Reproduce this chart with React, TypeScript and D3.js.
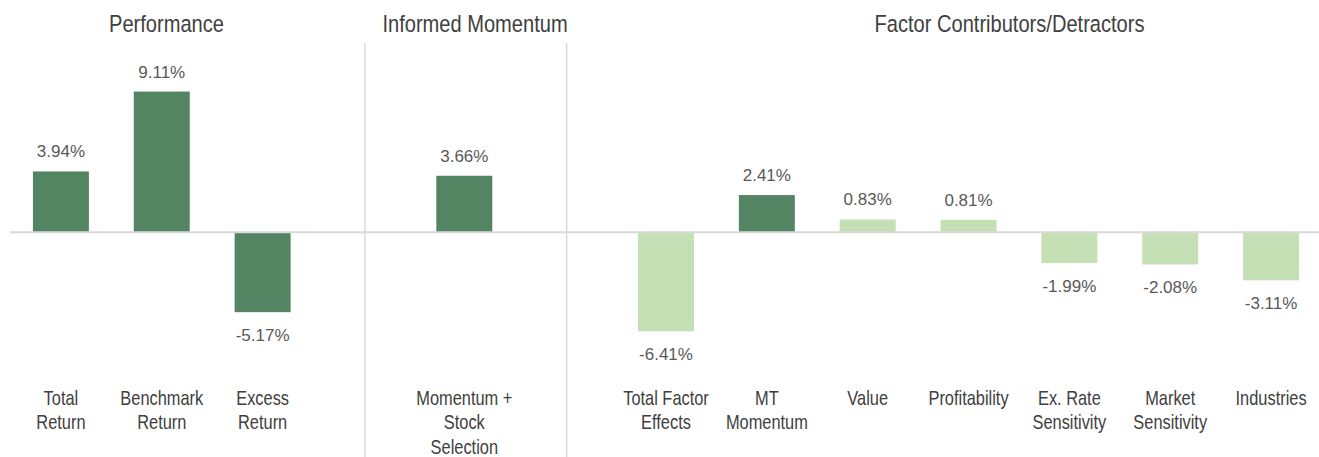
import React from 'react'
import * as d3 from 'd3'

const W = 1319
const H = 457

// one slot per category; empty slots hold the section separators
const categories = [
  'Total Return', 'Benchmark Return', 'Excess Return', 'sep1',
  'Momentum + Stock Selection', 'sep2',
  'Total Factor Effects', 'MT Momentum', 'Value', 'Profitability',
  'Ex. Rate Sensitivity', 'Market Sensitivity', 'Industries'
]
const labelLines = [
  ['Total', 'Return'], ['Benchmark', 'Return'], ['Excess', 'Return'], [],
  ['Momentum +', 'Stock', 'Selection'], [],
  ['Total Factor', 'Effects'], ['MT', 'Momentum'], ['Value'], ['Profitability'],
  ['Ex. Rate', 'Sensitivity'], ['Market', 'Sensitivity'], ['Industries']
]
const values = [3.94, 9.11, -5.17, null, 3.66, null, -6.41, 2.41, 0.83, 0.81, -1.99, -2.08, -3.11]
const highlight = [true, true, true, false, true, false, false, true, false, false, false, false, false]
const separators = ['sep1', 'sep2']
const sections = [
  { title: 'Performance', x: 166.5 },
  { title: 'Informed Momentum', x: 475 },
  { title: 'Factor Contributors/Detractors', x: 1009.5 }
]

const DARK = '#548562'
const LIGHT = '#c5e0b4'
const GRID = '#d9d9d9'
const TEXT = '#404040'
const SANS = "'Liberation Sans', Arial, sans-serif"
const NARROW = 0.82 // horizontal squeeze to mimic a narrow face

export default function App() {
  const x = d3.scaleBand<string>()
    .domain(categories)
    .range([10.5, 1321.5])
    .paddingInner(0.445)
    .paddingOuter(0.2225)

  const y = d3.scaleLinear().domain([-10, 10]).range([232.3 + 154.5, 232.3 - 154.5])
  const zero = y(0)

  const fmt = (v: number) => v.toFixed(2) + '%'

  return (
    <svg width={W} height={H} style={{ position: 'absolute', left: 0, top: 0, background: '#fff' }}>
      {/* section titles */}
      {sections.map(s => (
        <g key={s.title} transform={`translate(${s.x},32) scale(${NARROW},1)`}>
          <text textAnchor="middle" fontFamily={SANS} fontSize={24.5} fill={TEXT}>{s.title}</text>
        </g>
      ))}

      {/* separators */}
      {separators.map(s => {
        const cx = (x(s) ?? 0) + x.bandwidth() / 2 + 1.5
        return <line key={s} x1={cx} x2={cx} y1={43} y2={H} stroke={GRID} strokeWidth={1.5} />
      })}

      {/* bars */}
      {categories.map((c, i) => {
        const v = values[i]
        if (v == null) return null
        const top = Math.min(y(v), zero)
        const h = Math.abs(y(v) - zero)
        return (
          <rect key={c} x={x(c)} y={top} width={x.bandwidth()} height={h}
            fill={highlight[i] ? DARK : LIGHT} />
        )
      })}

      {/* zero line */}
      <line x1={10} x2={W} y1={zero} y2={zero} stroke={GRID} strokeWidth={2} />

      {/* value labels */}
      {categories.map((c, i) => {
        const v = values[i]
        if (v == null) return null
        const cx = (x(c) ?? 0) + x.bandwidth() / 2
        const ty = v >= 0 ? y(v) - 14 : y(v) + 29
        return (
          <text key={c} x={cx} y={ty} textAnchor="middle" fontFamily={SANS}
            fontSize={17} fill="#595959">
            {fmt(v)}
          </text>
        )
      })}

      {/* category labels */}
      {categories.map((c, i) => {
        const cx = (x(c) ?? 0) + x.bandwidth() / 2
        return (
          <g key={c} transform={`translate(${cx},0) scale(${NARROW},1)`}>
            <text textAnchor="middle" fontFamily={SANS} fontSize={20} fill={TEXT}>
              {labelLines[i].map((ln, j) => (
                <tspan key={j} x={0} y={405 + j * 24.3}>{ln}</tspan>
              ))}
            </text>
          </g>
        )
      })}
    </svg>
  )
}
